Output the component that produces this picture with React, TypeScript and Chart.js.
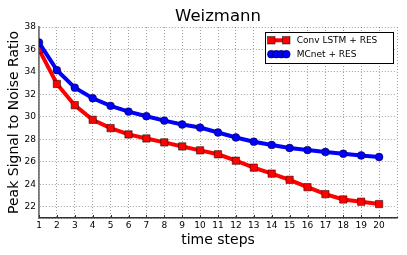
import { useEffect, useRef } from 'react';
import { Chart, registerables } from 'chart.js';

Chart.register(...registerables);

const FONT = "'DejaVu Sans', 'Liberation Sans', sans-serif";

const titleText = 'Weizmann';
const xTitle = 'time steps';
const yTitle = 'Peak Signal to Noise Ratio';
const seriesNames = ['Conv LSTM + RES', 'MCnet + RES'];

const steps = [1, 2, 3, 4, 5, 6, 7, 8, 9, 10, 11, 12, 13, 14, 15, 16, 17, 18, 19, 20];
const convLstm = [36.0, 32.93, 31.04, 29.74, 29.0, 28.44, 28.08, 27.73, 27.37, 27.02, 26.67, 26.1, 25.48, 24.95, 24.4, 23.74, 23.12, 22.65, 22.45, 22.24];
const mcnet = [36.62, 34.16, 32.6, 31.66, 30.98, 30.47, 30.06, 29.67, 29.32, 29.05, 28.61, 28.17, 27.79, 27.5, 27.23, 27.05, 26.88, 26.72, 26.57, 26.43];

const xTickValues = [1, 2, 3, 4, 5, 6, 7, 8, 9, 10, 11, 12, 13, 14, 15, 16, 17, 18, 19, 20, 21];
const yTickValues = [21, 22, 24, 26, 28, 30, 32, 34, 36, 38];

const RED = '#ff0000';
const BLUE = '#0000ff';
const EDGE = 'rgba(0,0,0,0.7)';

const textPlugin = {
  id: 'textPlugin',
  afterDraw(chart: any) {
    const { ctx, chartArea: a } = chart;
    const cx = (a.left + a.right) / 2;
    ctx.save();
    const xs = chart.scales.x;
    ctx.strokeStyle = '#333';
    ctx.lineWidth = 1;
    ctx.beginPath();
    for (const v of steps) {
      const px = Math.round(xs.getPixelForValue(v)) + 0.5;
      ctx.moveTo(px, a.bottom);
      ctx.lineTo(px, a.bottom - 3);
    }
    ctx.stroke();

    ctx.fillStyle = '#000';
    ctx.textAlign = 'center';
    ctx.textBaseline = 'alphabetic';
    ctx.font = `16.5px ${FONT}`;
    ctx.fillText(titleText, cx, 21);
    ctx.font = `14px ${FONT}`;
    ctx.fillText(xTitle, cx, 243.5);
    ctx.save();
    ctx.translate(17.5, (a.top + a.bottom) / 2);
    ctx.rotate(-Math.PI / 2);
    ctx.fillText(yTitle, 0, 0);
    ctx.restore();

    const bx = 265.5, by = 32.5, bw = 128, bh = 31;
    ctx.fillStyle = '#fff';
    ctx.fillRect(bx, by, bw, bh);
    ctx.strokeStyle = '#000';
    ctx.lineWidth = 1;
    ctx.strokeRect(bx, by, bw, bh);

    const y1 = 40.3, y2 = 54.2;
    ctx.strokeStyle = RED;
    ctx.lineWidth = 4;
    ctx.beginPath();
    ctx.moveTo(271.3, y1);
    ctx.lineTo(286.3, y1);
    ctx.stroke();
    ctx.lineWidth = 0.7;
    ctx.strokeStyle = EDGE;
    ctx.fillStyle = RED;
    for (const px of [271.3, 286.3]) {
      ctx.fillRect(px - 3.7, y1 - 3.7, 7.4, 7.4);
      ctx.strokeRect(px - 3.7, y1 - 3.7, 7.4, 7.4);
    }
    ctx.strokeStyle = BLUE;
    ctx.lineWidth = 4;
    ctx.beginPath();
    ctx.moveTo(271.3, y2);
    ctx.lineTo(286.3, y2);
    ctx.stroke();
    ctx.lineWidth = 0.7;
    ctx.strokeStyle = EDGE;
    ctx.fillStyle = BLUE;
    for (const px of [271.3, 276.3, 281.3, 286.3]) {
      ctx.beginPath();
      ctx.arc(px, y2, 3.9, 0, Math.PI * 2);
      ctx.fill();
      ctx.stroke();
    }
    ctx.fillStyle = '#000';
    ctx.font = `9px ${FONT}`;
    ctx.textAlign = 'left';
    ctx.textBaseline = 'middle';
    ctx.fillText(seriesNames[0], 296.7, y1);
    ctx.fillText(seriesNames[1], 296.7, y2);
    ctx.restore();
  },
};

export default function App() {
  const ref = useRef<HTMLCanvasElement | null>(null);
  useEffect(() => {
    if (!ref.current) return;
    const grid = {
      color: 'rgba(0,0,0,0.38)',
      lineWidth: 1,
      drawTicks: false,
    };
    const chart = new Chart(ref.current, {
      type: 'line',
      data: {
        datasets: [
          {
            label: seriesNames[0],
            data: steps.map((s, i) => ({ x: s, y: convLstm[i] })),
            borderColor: RED,
            backgroundColor: RED,
            borderWidth: 4,
            pointStyle: 'rect',
            pointRadius: 5.2,
            pointBorderColor: EDGE,
            pointBorderWidth: 0.7,
            pointBackgroundColor: RED,
            clip: 0,
            order: 2,
          },
          {
            label: seriesNames[1],
            data: steps.map((s, i) => ({ x: s, y: mcnet[i] })),
            borderColor: BLUE,
            backgroundColor: BLUE,
            borderWidth: 4,
            pointStyle: 'circle',
            pointRadius: 3.9,
            pointBorderColor: EDGE,
            pointBorderWidth: 0.7,
            pointBackgroundColor: BLUE,
            clip: 0,
            order: 1,
          },
        ],
      },
      options: {
        responsive: false,
        animation: false,
        layout: { padding: { top: 27, right: 10, left: 0, bottom: 0 } },
        plugins: {
          legend: { display: false },
          title: { display: false },
          tooltip: { enabled: false },
        },
        scales: {
          x: {
            type: 'linear',
            min: 1,
            max: 21,
            afterBuildTicks: (s: any) => {
              s.ticks = xTickValues.map((v) => ({ value: v }));
            },
            afterFit: (s: any) => {
              s.height = 37;
            },
            ticks: {
              autoSkip: false,
              maxRotation: 0,
              padding: 2,
              color: '#000',
              font: { family: FONT, size: 9 },
              callback: (v: any) => (v === 21 ? '' : String(v)),
            },
            grid: grid as any,
            border: { display: true, color: '#333', width: 1.5, dash: [1, 2] } as any,
          },
          y: {
            type: 'linear',
            min: 21,
            max: 38,
            afterBuildTicks: (s: any) => {
              s.ticks = yTickValues.map((v) => ({ value: v }));
            },
            afterFit: (s: any) => {
              s.width = 39;
            },
            ticks: {
              padding: 3,
              color: '#000',
              font: { family: FONT, size: 9 },
              callback: (v: any) => (v === 21 ? '' : String(v)),
            },
            grid: grid as any,
            border: { display: true, color: '#777', width: 1.8, dash: [1, 2] } as any,
          },
        },
      } as any,
      plugins: [textPlugin],
    });
    return () => chart.destroy();
  }, []);
  return (
    <div style={{ position: 'absolute', left: 0, top: 0, width: 407, height: 255, background: '#fff' }}>
      <canvas ref={ref} width={407} height={255} style={{ display: 'block' }} />
    </div>
  );
}
